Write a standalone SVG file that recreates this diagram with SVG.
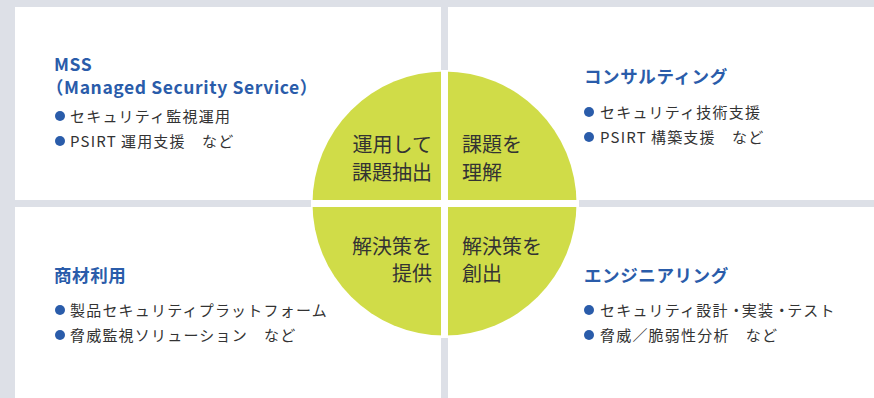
<svg xmlns="http://www.w3.org/2000/svg" width="874" height="398" viewBox="0 0 874 398">
<style>
.bg{fill:#dde0e7}
.panel{fill:#ffffff}
.ttl{font-family:"Noto Sans CJK JP","Noto Sans",sans-serif;font-weight:bold;font-size:17.5px;fill:#2a5caa;letter-spacing:0.6px}
.itm{font-family:"Noto Sans CJK JP","Noto Sans",sans-serif;font-size:15px;fill:#333333;letter-spacing:1.2px}
.dot{fill:#2a5caa}
.ctr{font-family:"Noto Sans CJK JP","Noto Sans",sans-serif;font-size:20px;fill:#333333}
.quad{fill:#d0dc48}
</style>
<rect class="bg" x="0" y="0" width="874" height="398"/>
<g id="panels">
<rect class="panel" x="15" y="7" width="426" height="193"/>
<rect class="panel" x="448" y="7" width="426" height="193"/>
<rect class="panel" x="15" y="207" width="426" height="191"/>
<rect class="panel" x="448" y="207" width="426" height="191"/>
</g>
<g id="node-mss">
<text class="ttl" x="54" y="71" font-size="19" letter-spacing="0.3">MSS</text>
<text class="ttl" x="46" y="94" letter-spacing="0.1">（Managed Security Service）</text>
<circle class="dot" cx="60" cy="116" r="5"/>
<text class="itm" x="70" y="122">セキュリティ監視運用</text>
<circle class="dot" cx="60" cy="141" r="5"/>
<text class="itm" x="70" y="147">PSIRT<tspan dx="4">運用支援　など</tspan></text>
</g>
<g id="node-consulting">
<text class="ttl" x="584" y="83">コンサルティング</text>
<circle class="dot" cx="589" cy="112" r="5"/>
<text class="itm" x="600" y="118">セキュリティ技術支援</text>
<circle class="dot" cx="589" cy="137" r="5"/>
<text class="itm" x="600" y="143">PSIRT<tspan dx="4">構築支援　など</tspan></text>
</g>
<g id="node-products">
<text class="ttl" x="54" y="282">商材利用</text>
<circle class="dot" cx="60" cy="310" r="5"/>
<text class="itm" x="70" y="316">製品セキュリティプラットフォーム</text>
<circle class="dot" cx="60" cy="335" r="5"/>
<text class="itm" x="70" y="341">脅威監視ソリューション　など</text>
</g>
<g id="node-engineering">
<text class="ttl" x="584" y="282">エンジニアリング</text>
<circle class="dot" cx="589" cy="310" r="5"/>
<text class="itm" x="600" y="316">セキュリティ設計<tspan letter-spacing="-2">・</tspan>実装<tspan letter-spacing="-2">・</tspan>テスト</text>
<circle class="dot" cx="589" cy="335" r="5"/>
<text class="itm" x="600" y="341">脅威／脆弱性分析　など</text>
</g>
<g id="node-cycle">
<circle class="quad" cx="444.5" cy="203.5" r="132"/>
<rect x="441" y="70" width="7" height="268" fill="#ffffff"/>
<rect x="311" y="200" width="268" height="7" fill="#ffffff"/>
<text class="ctr" x="432" y="152" text-anchor="end">運用して</text>
<text class="ctr" x="432" y="180" text-anchor="end">課題抽出</text>
<text class="ctr" x="462" y="152">課題を</text>
<text class="ctr" x="462" y="180">理解</text>
<text class="ctr" x="432" y="254" text-anchor="end">解決策を</text>
<text class="ctr" x="432" y="281" text-anchor="end">提供</text>
<text class="ctr" x="462" y="254">解決策を</text>
<text class="ctr" x="462" y="281">創出</text>
</g>
<g id="connectors"/>
</svg>
